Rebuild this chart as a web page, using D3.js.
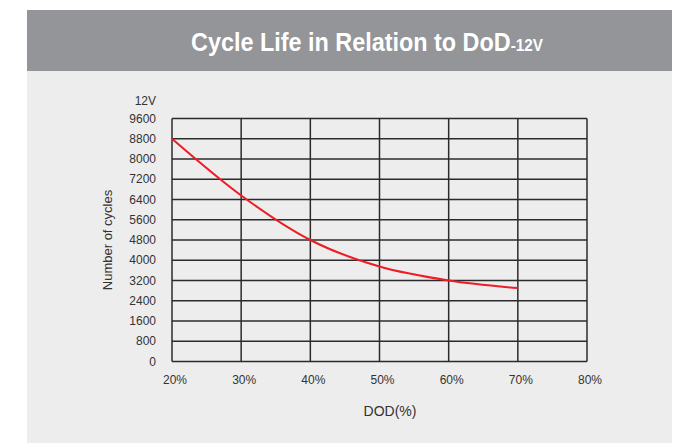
<!DOCTYPE html>
<html>
<head>
<meta charset="utf-8">
<script src="https://cdn.jsdelivr.net/npm/d3@7"></script>
<style>
  body { margin: 0; background: #fff; }
  svg { display: block; font-family: "Liberation Sans", Arial, sans-serif; }
</style>
</head>
<body>
<div id="chart"></div>
<script>
// Cycle life vs depth of discharge (12V)
const dodValues = [20, 30, 40, 50, 60, 70];
const cycleValues = [8800, 6560, 4800, 3750, 3200, 2900];
const xTicks = [20, 30, 40, 50, 60, 70, 80];
const yTicks = [0, 800, 1600, 2400, 3200, 4000, 4800, 5600, 6400, 7200, 8000, 8800, 9600];

const W = 687, H = 443;
const plot = { left: 172, right: 587, top: 118.5, bottom: 361.5 };

const svg = d3.select("#chart").append("svg")
  .attr("width", W)
  .attr("height", H);

// panel background + header band
svg.append("rect")
  .attr("x", 27).attr("y", 71).attr("width", 645).attr("height", H - 71)
  .attr("fill", "#ededed");
svg.append("rect")
  .attr("x", 27).attr("y", 10).attr("width", 645).attr("height", 61)
  .attr("fill", "#939598");

// title is a bit condensed in the original, squeeze it horizontally
const title = svg.append("text")
  .attr("transform", "translate(367,51) scale(0.9,1)")
  .attr("text-anchor", "middle")
  .attr("fill", "#fff")
  .attr("font-weight", "bold");
title.append("tspan").attr("font-size", 26).text("Cycle Life in Relation to DoD");
title.append("tspan").attr("font-size", 17).text("-12V");

const x = d3.scaleLinear()
  .domain([20, 80])
  .range([plot.left, plot.right]);

const y = d3.scaleLinear()
  .domain([0, 9600])
  .range([plot.bottom, plot.top]);

const g = svg.append("g");

// grid
g.selectAll(".hgrid")
  .data(yTicks)
  .join("line")
  .attr("class", "hgrid")
  .attr("x1", plot.left).attr("x2", plot.right)
  .attr("y1", d => y(d)).attr("y2", d => y(d))
  .attr("stroke", "#2b2b2b")
  .attr("stroke-width", 1.5);

g.selectAll(".vgrid")
  .data(xTicks)
  .join("line")
  .attr("class", "vgrid")
  .attr("x1", d => x(d)).attr("x2", d => x(d))
  .attr("y1", plot.top).attr("y2", plot.bottom)
  .attr("stroke", "#2b2b2b")
  .attr("stroke-width", 1.5);

// y labels
g.selectAll(".ylab")
  .data(yTicks)
  .join("text")
  .attr("class", "ylab")
  .attr("x", 156)
  .attr("y", d => y(d) + 4)
  .attr("text-anchor", "end")
  .attr("font-size", 12)
  .attr("fill", "#333")
  .text(d => d);

svg.append("text")
  .attr("x", 156)
  .attr("y", 105)
  .attr("text-anchor", "end")
  .attr("font-size", 12)
  .attr("fill", "#333")
  .text("12V");

// x labels
g.selectAll(".xlab")
  .data(xTicks)
  .join("text")
  .attr("class", "xlab")
  .attr("x", d => x(d) + 3)
  .attr("y", 384)
  .attr("text-anchor", "middle")
  .attr("font-size", 12)
  .attr("fill", "#333")
  .text(d => d + "%");

svg.append("text")
  .attr("x", 390)
  .attr("y", 416)
  .attr("text-anchor", "middle")
  .attr("font-size", 14)
  .attr("fill", "#333")
  .text("DOD(%)");

svg.append("text")
  .attr("transform", `translate(112,${(plot.top + plot.bottom) / 2}) rotate(-90)`)
  .attr("text-anchor", "middle")
  .attr("font-size", 13)
  .attr("fill", "#333")
  .text("Number of cycles");

// curve
const line = d3.line()
  .x((d, i) => x(dodValues[i]))
  .y(d => y(d))
  .curve(d3.curveMonotoneX);

g.append("path")
  .datum(cycleValues)
  .attr("fill", "none")
  .attr("stroke", "#ee1c25")
  .attr("stroke-width", 2)
  .attr("d", line);
</script>
</body>
</html>
